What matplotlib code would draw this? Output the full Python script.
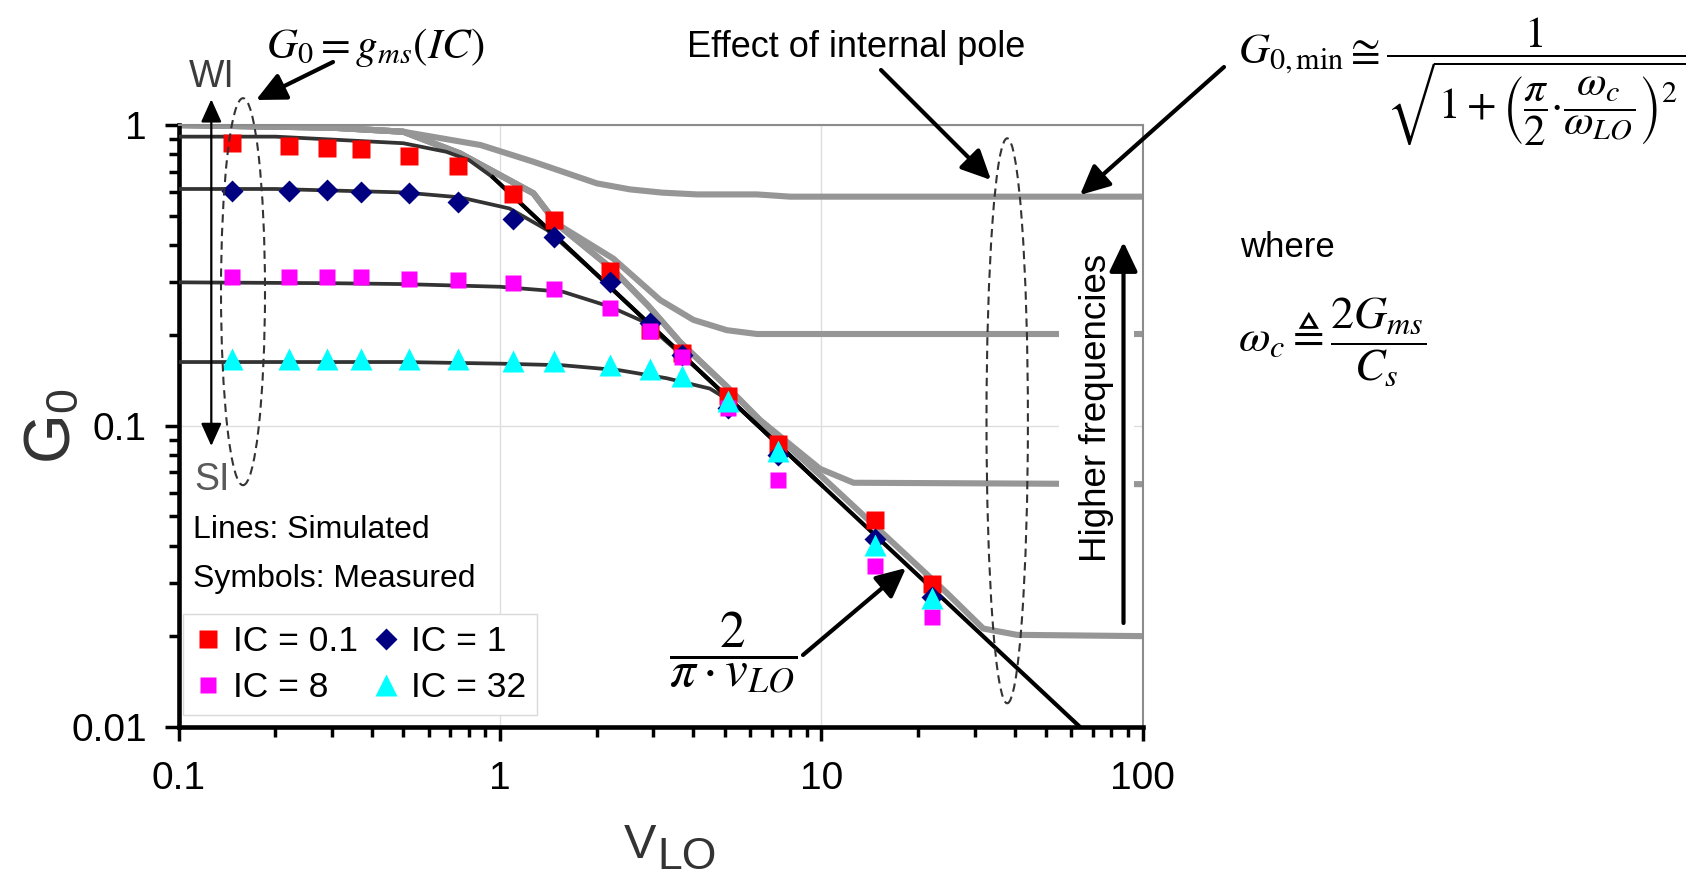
import numpy as np
import matplotlib
matplotlib.use("Agg")
import matplotlib.pyplot as plt
from matplotlib.patches import Ellipse, FancyArrowPatch
from matplotlib.ticker import LogLocator, NullFormatter

plt.rcParams['font.family'] = ['Liberation Sans', 'DejaVu Sans']
plt.rcParams['mathtext.fontset'] = 'stix'

# ---------------- data ----------------
v_meas = [0.146, 0.22, 0.29, 0.37, 0.52, 0.74, 1.1, 1.47, 2.2, 2.92, 3.69, 5.13, 7.33, 14.7, 22.1]
g_ic01 = [0.87, 0.85, 0.84, 0.83, 0.79, 0.73, 0.59, 0.485, 0.328, 0.208, 0.174, 0.126, 0.087, 0.0487, 0.0298]
g_ic1 = [0.603, 0.605, 0.607, 0.600, 0.593, 0.556, 0.489, 0.426, 0.300, 0.220, 0.172, 0.115, 0.080, 0.042, 0.027]
g_ic8 = [0.312, 0.312, 0.312, 0.312, 0.307, 0.305, 0.298, 0.284, 0.247, 0.206, 0.169, 0.115, 0.066, 0.0343, 0.0231]
g_ic32 = [0.167, 0.167, 0.167, 0.167, 0.167, 0.167, 0.164, 0.164, 0.159, 0.154, 0.146, 0.121, 0.0826, 0.0402, 0.0267]

# simulated (dark) curves
sim01_x = [0.1, 0.2, 0.5, 0.68, 0.8, 0.95, 1.5, 2.2, 3.0, 5.0, 10.0]
sim01_y = [0.915, 0.915, 0.87, 0.815, 0.765, 0.67, 0.424, 0.289, 0.212, 0.127, 0.0637]
sim1_x = [0.1, 0.2, 0.5, 0.75, 1.07, 1.4, 2.0, 3.0, 5.0, 10.0]
sim1_y = [0.613, 0.613, 0.597, 0.575, 0.528, 0.448, 0.318, 0.212, 0.127, 0.0637]
sim8_x = [0.1, 0.3, 0.5, 1.0, 1.57, 2.2, 2.8, 4.0, 6.0, 10.0]
sim8_y = [0.300, 0.298, 0.296, 0.290, 0.279, 0.249, 0.222, 0.159, 0.106, 0.0637]
sim32_x = [0.1, 0.5, 1.0, 1.57, 2.36, 3.3, 4.5, 5.4, 7.0, 10.0]
sim32_y = [0.163, 0.163, 0.161, 0.159, 0.153, 0.144, 0.133, 0.118, 0.091, 0.0637]

# asymptote 2/(pi*v)
asym_x = [0.95, 63.7]
asym_y = [0.67, 0.01]

# gray curves (higher frequencies)
gray1_x = [0.1, 0.3, 0.5, 0.87, 1.27, 2.0, 2.54, 3.2, 4.1, 6.3, 8.0, 100]
gray1_y = [1.0, 0.98, 0.95, 0.858, 0.755, 0.64, 0.611, 0.596, 0.588, 0.588, 0.578, 0.578]
gray2_x = [0.1, 0.3, 0.5, 0.75, 1.27, 1.5, 2.25, 3.15, 4.0, 5.08, 6.3, 100]
gray2_y = [1.0, 0.98, 0.95, 0.805, 0.593, 0.47, 0.36, 0.262, 0.225, 0.208, 0.202, 0.202]
gray3_x = [0.1, 0.3, 0.5, 0.75, 1.27, 1.5, 2.25, 2.9, 3.63, 5.08, 6.45, 9.9, 12.6, 100]
gray3_y = [1.0, 0.98, 0.95, 0.805, 0.593, 0.47, 0.33, 0.25, 0.19, 0.135, 0.1045, 0.072, 0.0647, 0.064]
gray4_x = [0.1, 0.3, 0.5, 0.75, 1.27, 1.5, 2.25, 2.9, 3.63, 5.08, 6.45, 10.0, 15.0, 24.7, 31.9, 40.6, 100]
gray4_y = [1.0, 0.98, 0.95, 0.805, 0.593, 0.47, 0.33, 0.25, 0.19, 0.135, 0.104, 0.068, 0.0455, 0.0277, 0.0212, 0.0202, 0.020]

x_ticks = [0.1, 1, 10, 100]
x_ticklabels = ['0.1', '1', '10', '100']
y_ticks = [0.01, 0.1, 1]
y_ticklabels = ['0.01', '0.1', '1']
legend_labels = ['IC = 0.1', 'IC = 1', 'IC = 8', 'IC = 32']

# ---------------- figure ----------------
W, H = 1693, 875
fig = plt.figure(figsize=(W / 100, H / 100), dpi=100)
ax = fig.add_axes([0.1056, 0.1695, 0.5693, 0.6876])


def F(x, y):
    """full-image pixel (from top-left) -> figure fraction"""
    return (x / W, 1 - y / H)


ax.set_xscale('log')
ax.set_yscale('log')
ax.set_xlim(0.1, 100)
ax.set_ylim(0.01, 1)

ax.set_xticks(x_ticks, x_ticklabels)
ax.set_yticks(y_ticks, y_ticklabels)
ax.xaxis.set_minor_locator(LogLocator(base=10, subs=np.arange(2, 10)))
ax.yaxis.set_minor_locator(LogLocator(base=10, subs=np.arange(2, 10)))
ax.xaxis.set_minor_formatter(NullFormatter())
ax.yaxis.set_minor_formatter(NullFormatter())

ax.set_axisbelow(True)
ax.grid(True, which='major', color='#dedede', lw=1.0)
ax.grid(False, which='minor')

for s in ['left', 'bottom']:
    ax.spines[s].set_linewidth(3.3)
    ax.spines[s].set_color('black')
for s in ['top', 'right']:
    ax.spines[s].set_linewidth(1.5)
    ax.spines[s].set_color('#8c8c8c')

ax.tick_params(which='major', length=10, width=2.5, direction='out', labelsize=28, color='black')
ax.tick_params(which='minor', length=7, width=2.5, direction='out', color='black')
ax.tick_params(axis='x', which='major', pad=15)
ax.tick_params(axis='y', which='major', pad=13)
ax.tick_params(top=False, right=False, which='both')

# gray curves
for gx, gy in [(gray1_x, gray1_y), (gray2_x, gray2_y), (gray3_x, gray3_y), (gray4_x, gray4_y)]:
    ax.plot(gx, gy, color='#969696', lw=4.4, zorder=2, solid_joinstyle='round')

# simulated curves
for sx, sy in [(sim01_x, sim01_y), (sim1_x, sim1_y), (sim8_x, sim8_y), (sim32_x, sim32_y)]:
    ax.plot(sx, sy, color='#333333', lw=2.7, zorder=3, solid_joinstyle='round')
ax.plot(asym_x, asym_y, color='black', lw=3.0, zorder=3)

# measured symbols
h01, = ax.plot(v_meas, g_ic01, ls='none', marker='s', ms=13.5, color='#ff0000', mec='none', zorder=4, label=legend_labels[0])
h1, = ax.plot(v_meas, g_ic1, ls='none', marker='D', ms=11, color='#000080', mec='none', zorder=5, label=legend_labels[1])
h8, = ax.plot(v_meas, g_ic8, ls='none', marker='s', ms=11.5, color='#ff00ff', mec='none', zorder=6, label=legend_labels[2])
h32, = ax.plot(v_meas, g_ic32, ls='none', marker='^', ms=15.5, color='#00ffff', mec='none', zorder=7, label=legend_labels[3])

leg = ax.legend(handles=[h01, h8, h1, h32], ncol=2, loc='lower left',
                bbox_to_anchor=(0.0045, 0.0194), borderaxespad=0, frameon=True,
                fancybox=False, edgecolor='#d9d9d9', framealpha=1, fontsize=25.5,
                handlelength=0.8, handletextpad=0.3, columnspacing=0.4,
                borderpad=0.3, labelspacing=0.38, numpoints=1)
leg.get_frame().set_linewidth(1.0)

# axis labels
ax.set_ylabel(r'G$_{\mathregular{0}}$', fontsize=46, color='#333333')
ax.yaxis.set_label_coords(-0.100, 0.5)
ax.set_xlabel('V', fontsize=35, color='#333333')
ax.xaxis.set_label_coords(0.4786, -0.1605)
ax.annotate('LO', xy=(1, 0), xycoords=ax.xaxis.label, xytext=(1, -0.5),
            textcoords='offset points', fontsize=32, color='#333333',
            ha='left', va='baseline', annotation_clip=False)

# ---------------- annotations ----------------
fig.text(*F(266, 58), r'$G_0 = g_{ms}(IC)$', fontsize=31, ha='left', va='baseline')
fig.text(*F(856, 57), 'Effect of internal pole', fontsize=26, ha='center', va='baseline')
fig.text(*F(211.5, 86.7), 'WI', fontsize=27, color='#3c3c3c', ha='center', va='baseline')
fig.text(*F(212, 490), 'SI', fontsize=27, color='#595959', ha='center', va='baseline')
fig.text(*F(193, 538), 'Lines: Simulated', fontsize=23, ha='left', va='baseline')
fig.text(*F(193, 587), 'Symbols: Measured', fontsize=23, ha='left', va='baseline')
fig.text(*F(733, 610), r'$\dfrac{2}{\pi \cdot v_{LO}}$', fontsize=37, ha='center', va='top')
fig.text(*F(1238, 16),
         r'$G_{0,\mathrm{min}} \cong \dfrac{1}{\sqrt{1+\left(\dfrac{\pi}{2}{\cdot}\dfrac{\omega_c}{\omega_{LO}}\right)^2}}$',
         fontsize=31, ha='left', va='top')
fig.text(*F(1240, 257), 'where', fontsize=25, ha='left', va='baseline')
fig.text(*F(1238, 296), r'$\omega_c \triangleq \dfrac{2G_{ms}}{C_s}$', fontsize=33, ha='left', va='top')
fig.text(*F(1096.5, 408), 'Higher frequencies', rotation=90, fontsize=26.5,
         ha='center', va='center', zorder=3,
         bbox=dict(boxstyle='square,pad=0.55', fc='white', ec='none'))

# dashed ellipses
for (cx, cy, ew, eh) in [(243, 291.7, 44, 387), (1007.2, 420.8, 41.4, 565)]:
    fig.add_artist(Ellipse(F(cx, cy), ew / W, eh / H, transform=fig.transFigure,
                           fill=False, ls=(0, (4, 2.5)), lw=1.5, ec='#333333', zorder=4))

# arrows
big = dict(arrowstyle='-|>,head_length=0.9,head_width=0.43', mutation_scale=20,
           lw=3, color='black', shrinkA=0, shrinkB=0, transform=fig.transFigure, zorder=5)
for (x0, y0, x1, y1) in [(333, 62, 256, 100), (881, 70, 991, 180), (1224, 67, 1080, 195),
                         (803, 655, 906, 568), (1123.5, 623, 1123.5, 242)]:
    fig.add_artist(FancyArrowPatch(F(x0, y0), F(x1, y1), **big))
fig.add_artist(FancyArrowPatch(F(211.3, 99.3), F(211.3, 446),
                               arrowstyle='<|-|>,head_length=1.0,head_width=0.45', mutation_scale=14,
                               lw=1.6, color='black', shrinkA=0, shrinkB=0,
                               transform=fig.transFigure, zorder=5))

fig.savefig('out.png', dpi=100)
